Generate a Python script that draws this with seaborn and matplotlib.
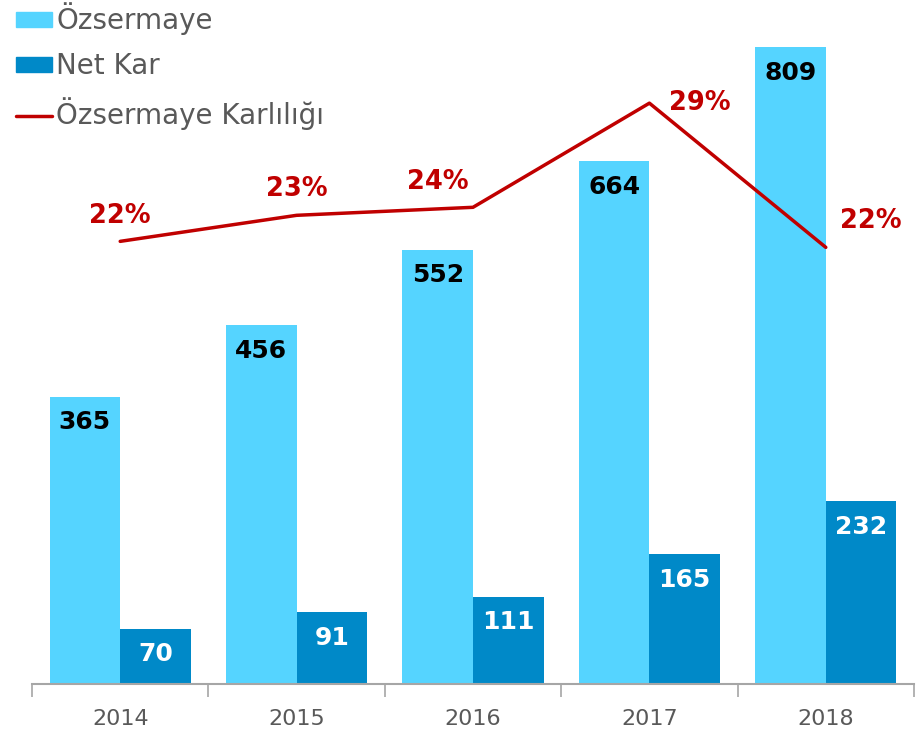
import numpy as np
import pandas as pd
import seaborn as sns
import matplotlib.pyplot as plt
from matplotlib.patches import Patch
from matplotlib.lines import Line2D
from matplotlib.ticker import FixedLocator

years = ["2014", "2015", "2016", "2017", "2018"]
ozsermaye = [365, 456, 552, 664, 809]
net_kar = [70, 91, 111, 165, 232]
karlilik = [22.1, 23.4, 23.8, 29.0, 21.8]
karlilik_labels = ["22%", "23%", "24%", "29%", "22%"]

light = "#55D4FF"
dark = "#0089C8"
red = "#C00000"
grey_txt = "#595959"

sns.set_theme(style="white")
plt.rcParams["font.family"] = ["DejaVu Sans"]

df = pd.DataFrame({
    "year": years * 2,
    "seri": ["Özsermaye"] * len(years) + ["Net Kar"] * len(years),
    "deger": ozsermaye + net_kar,
})

fig = plt.figure(figsize=(9.24, 7.32), dpi=100)
ax = fig.add_axes([32 / 924, 48 / 732, 882 / 924, 684 / 732])

sns.barplot(data=df, x="year", y="deger", hue="seri", palette=[light, dark],
            width=0.8, saturation=1, linewidth=0, ax=ax, legend=False)
ax.set_xlim(-0.5, 4.5)
ax.set_ylim(0, 869)

# bar values inside the top of each bar
for cont, col in zip(ax.containers, ["black", "white"]):
    ax.bar_label(cont, labels=[str(int(v)) for v in cont.datavalues],
                 padding=-27, color=col, fontsize=18, fontweight="bold")

# profitability line on a second axis
ax2 = ax.twinx()
sns.lineplot(x=np.arange(len(years)), y=karlilik, color=red, linewidth=2.5, ax=ax2)
ax2.set_ylim(0, 34.15)
offsets = [(0, 25), (0, 26), (-35, 25), (50, 0), (45, 26)]
for i, (v, lab) in enumerate(zip(karlilik, karlilik_labels)):
    ax2.annotate(lab, (i, v), xytext=offsets[i], textcoords="offset pixels",
                 ha="center", va="center", color=red, fontsize=18.5, fontweight="bold")

for a in (ax, ax2):
    a.set_yticks([])
    a.set_ylabel("")
    for s in ["top", "right", "left"]:
        a.spines[s].set_visible(False)
ax2.spines["bottom"].set_visible(False)
ax.spines["bottom"].set_color("#A6A6A6")
ax.spines["bottom"].set_linewidth(1.5)

ax.set_xlabel("")
ax.tick_params(axis="x", which="major", bottom=False, length=0, pad=18,
               labelsize=16, labelcolor=grey_txt)
ax.xaxis.set_minor_locator(FixedLocator(np.arange(-0.5, len(years), 1.0)))
ax.tick_params(axis="x", which="minor", bottom=True, length=9, width=1.2,
               color="#A6A6A6", direction="out")

handles = [Patch(color=light), Patch(color=dark), Line2D([], [], color=red, linewidth=2.5)]
fig.legend(handles, ["Özsermaye", "Net Kar", "Özsermaye Karlılığı"],
           loc="upper left", bbox_to_anchor=(0.005, 1.012), frameon=False,
           fontsize=20, labelcolor=grey_txt, handlelength=1.3, handleheight=0.45,
           handletextpad=0.15, labelspacing=0.62, borderaxespad=0)

fig.savefig("out.png", dpi=100)
